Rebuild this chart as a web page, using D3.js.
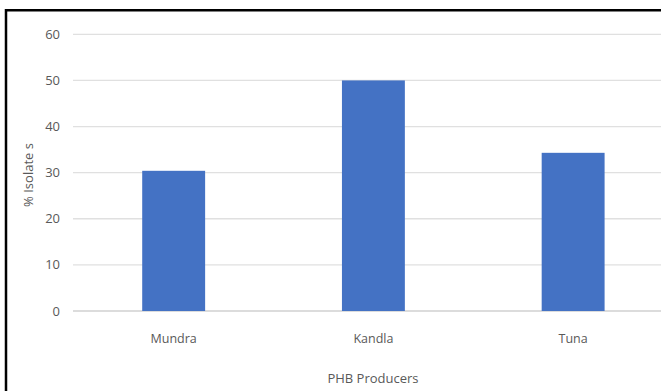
<!DOCTYPE html>
<html>
<head>
<meta charset="utf-8">
<script src="https://cdn.jsdelivr.net/npm/d3@7"></script>
<style>
  body { margin: 0; background: #fff; }
  svg text { font-family: "Open Sans", "Liberation Sans", sans-serif; fill: #595959; }
</style>
</head>
<body>
<svg width="661" height="391"></svg>
<script>
var categories = ["Mundra", "Kandla", "Tuna"];
var values = [30.4, 50, 34.3];
var yTicks = [0, 10, 20, 30, 40, 50, 60];

var svg = d3.select("svg");

// frame lines (top and left)
svg.append("line")
   .attr("x1", 5).attr("x2", 661).attr("y1", 10.3).attr("y2", 10.3)
   .attr("stroke", "#000").attr("stroke-width", 2.5);
svg.append("line")
   .attr("x1", 6).attr("x2", 6).attr("y1", 9).attr("y2", 391)
   .attr("stroke", "#000").attr("stroke-width", 2.5);

// plot area runs past the right edge (the picture is cropped there)
var x = d3.scaleBand()
          .domain(categories)
          .range([73.8, 673])
          .paddingInner(0.685)
          .paddingOuter(0.3425);

var y = d3.scaleLinear()
          .domain([0, 60])
          .range([311, 34.3]);

// gridlines
svg.append("g")
   .selectAll("line")
   .data(yTicks)
   .enter().append("line")
   .attr("x1", 73).attr("x2", 661)
   .attr("y1", function (d) { return y(d); })
   .attr("y2", function (d) { return y(d); })
   .attr("stroke", function (d) { return d === 0 ? "#d0d0d0" : "#e0e0e0"; })
   .attr("stroke-width", 1.3);

// y tick labels
svg.append("g")
   .selectAll("text")
   .data(yTicks)
   .enter().append("text")
   .attr("x", 60)
   .attr("y", function (d) { return y(d); })
   .attr("dy", "0.35em")
   .attr("text-anchor", "end")
   .style("font-size", "13px")
   .text(function (d) { return d; });

// bars
svg.selectAll(".bar")
   .data(values)
   .enter().append("rect")
   .attr("class", "bar")
   .attr("x", function (d, i) { return x(categories[i]); })
   .attr("y", function (d) { return y(d); })
   .attr("width", x.bandwidth())
   .attr("height", function (d) { return y(0) - y(d); })
   .attr("fill", "#4472C4");

// category labels
svg.append("g")
   .selectAll("text")
   .data(categories)
   .enter().append("text")
   .attr("x", function (d) { return x(d) + x.bandwidth() / 2; })
   .attr("y", 339)
   .attr("dy", "0.35em")
   .attr("text-anchor", "middle")
   .style("font-size", "12.5px")
   .text(function (d) { return d; });

// axis titles
svg.append("text")
   .attr("x", 373)
   .attr("y", 378)
   .attr("dy", "0.35em")
   .attr("text-anchor", "middle")
   .style("font-size", "13px")
   .text("PHB Producers");

svg.append("text")
   .attr("transform", "translate(28,175) rotate(-90)")
   .attr("dy", "0.35em")
   .attr("text-anchor", "middle")
   .style("font-size", "13px")
   .text("% Isolate s");
</script>
</body>
</html>
